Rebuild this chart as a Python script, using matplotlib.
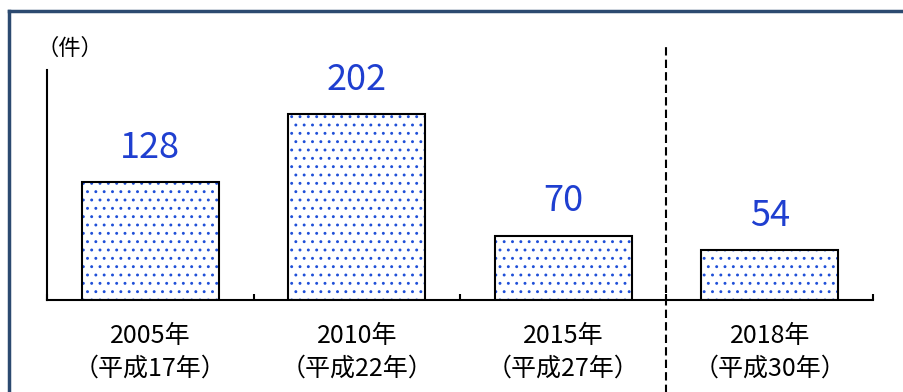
import matplotlib.pyplot as plt
from matplotlib.lines import Line2D

plt.rcParams['font.family'] = ['Noto Sans CJK JP', 'DejaVu Sans']
plt.rcParams['hatch.linewidth'] = 0.9

years = ["2005年", "2010年", "2015年", "2018年"]
eras = ["（平成17年）", "（平成22年）", "（平成27年）", "（平成30年）"]
counts = [128, 202, 70, 54]

fig = plt.figure(figsize=(9.04, 3.92), dpi=100)
ax = fig.add_axes([0.052, 0.2347, 0.9137, 0.5867])

x = [i + 0.5 for i in range(len(counts))]
# dotted fill first, then the black outline on top
ax.bar(x, counts, width=0.665, color="white", edgecolor="#1f4fd8",
       hatch="..", linewidth=0)
ax.bar(x, counts, width=0.665, fill=False, edgecolor="black", linewidth=1.5)

for xi, c in zip(x, counts):
    ax.text(xi, c + 18, str(c), ha="center", va="bottom",
            fontsize=26, color="#1f3fd0")

ax.set_xlim(0, 4)
ax.set_ylim(0, 250)
ax.set_yticks([])
ax.set_xticks(range(5))
ax.set_xticklabels([])
ax.tick_params(axis="x", direction="in", length=4, width=1.5)
for s in ["top", "right"]:
    ax.spines[s].set_visible(False)
ax.spines["left"].set_linewidth(1.5)
ax.spines["bottom"].set_linewidth(1.5)

trans = ax.get_xaxis_transform()
for xi, y, e in zip(x, years, eras):
    ax.text(xi, -0.155, y, transform=trans, ha="center", va="center", fontsize=18)
    ax.text(xi, -0.30, e, transform=trans, ha="center", va="center", fontsize=18)

# break between survey periods
ax.plot([3, 3], [-0.42, 1.1], transform=trans, color="black", lw=1.5,
        ls=(0, (4, 2)), clip_on=False)

fig.text(0.040, 0.877, "（件）", fontsize=16, ha="left", va="center")

# outer frame of the source figure
frame = "#2c4a70"
fig.add_artist(Line2D([0.0105, 0.0105], [0, 0.972], color=frame, lw=2.5,
                      transform=fig.transFigure))
fig.add_artist(Line2D([0.0105, 1], [0.972, 0.972], color=frame, lw=2.5,
                      transform=fig.transFigure))

fig.savefig("out.png", dpi=100)
